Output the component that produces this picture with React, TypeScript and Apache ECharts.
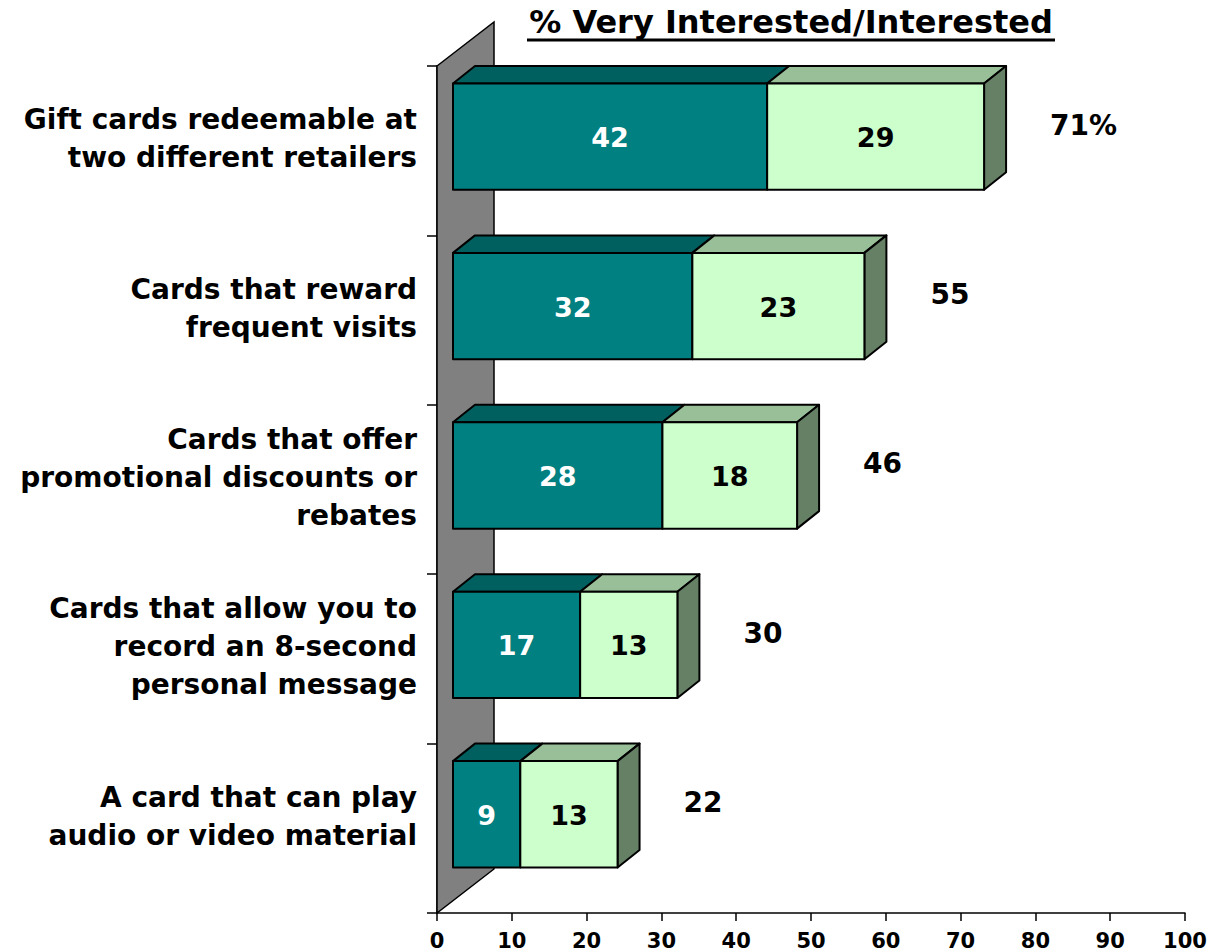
import React, { useEffect, useRef } from "react";
import * as echarts from "echarts";

const categories = [
  "Gift cards redeemable at\ntwo different retailers",
  "Cards that reward\nfrequent visits",
  "Cards that offer\npromotional discounts or\nrebates",
  "Cards that allow you to\nrecord an 8-second\npersonal message",
  "A card that can play\naudio or video material",
];
const veryInterested = [42, 32, 28, 17, 9];
const interested = [29, 23, 18, 13, 13];
const totalLabels = ["71%", "55", "46", "30", "22"];
const titleText = "% Very Interested/Interested";

const FONT = "'DejaVu Sans', Verdana, sans-serif";
const DX = 22;
const DY = 17.5;
const FRONT_SHIFT = 16;
const WALL_DX = 57;
const WALL_DY = 44;

const darkColors = { front: "#008080", top: "#006060", side: "#004040" };
const lightColors = { front: "#CCFFCC", top: "#99BF99", side: "#668066" };

function frontBox(api: any, value: number, cat: number) {
  const p = api.coord([value, cat]);
  const bandH = api.size([0, 1])[1];
  const bandTop = p[1] - bandH / 2;
  const ft = bandTop + DY;
  const fb = bandTop + bandH * 0.731;
  return { x: p[0] + FRONT_SHIFT, ft, fb, bandTop, axisX: p[0] };
}

function makeBoxRenderer(colors: any, withSide: boolean, textColor: string) {
  return (params: any, api: any) => {
    const start = api.value(0);
    const end = api.value(1);
    const cat = api.value(2);
    const label = api.value(3);
    const a = frontBox(api, start, cat);
    const b = frontBox(api, end, cat);
    const x0 = a.x;
    const x1 = b.x;
    const ft = a.ft;
    const fb = a.fb;
    const stroke = { stroke: "#000", lineWidth: 2, lineJoin: "round" };
    const children: any[] = [
      {
        type: "polygon",
        shape: { points: [[x0, ft], [x0 + DX, ft - DY], [x1 + DX, ft - DY], [x1, ft]] },
        style: { fill: colors.top, ...stroke },
      },
    ];
    if (withSide) {
      children.push({
        type: "polygon",
        shape: { points: [[x1, ft], [x1 + DX, ft - DY], [x1 + DX, fb - DY], [x1, fb]] },
        style: { fill: colors.side, ...stroke },
      });
    }
    children.push({
      type: "rect",
      shape: { x: x0, y: ft, width: x1 - x0, height: fb - ft },
      style: { fill: colors.front, ...stroke },
    });
    children.push({
      type: "text",
      x: (x0 + x1) / 2,
      y: (ft + fb) / 2 + 1,
      style: {
        text: String(label),
        fill: textColor,
        font: `bold 27px ${FONT}`,
        align: "center",
        verticalAlign: "middle",
      },
    });
    return { type: "group", children };
  };
}

export default function App() {
  const ref = useRef<HTMLDivElement>(null);
  useEffect(() => {
    if (!ref.current) return;
    const chart = echarts.init(ref.current, undefined, { renderer: "svg" });
    const n = categories.length;
    const darkData = veryInterested.map((v, i) => [0, v, i, v]);
    const lightData = interested.map((v, i) => [veryInterested[i], veryInterested[i] + v, i, v]);
    const totalData = interested.map((v, i) => [veryInterested[i] + v, i]);
    const labelData = categories.map((c, i) => [0, i]);

    chart.setOption({
      animation: false,
      backgroundColor: "#fff",
      grid: { left: 437, right: 25, top: 66, bottom: 39 },
      graphic: [
        {
          type: "text",
          x: 791,
          y: 22,
          style: {
            text: titleText,
            font: `bold 32px ${FONT}`,
            fill: "#000",
            align: "center",
            verticalAlign: "middle",
          },
        },
        {
          type: "line",
          shape: { x1: 527, y1: 40, x2: 1055, y2: 40 },
          style: { stroke: "#000", lineWidth: 3 },
        },
      ],
      xAxis: {
        type: "value",
        min: 0,
        max: 100,
        interval: 10,
        splitLine: { show: false },
        axisLine: { show: true, lineStyle: { color: "#000", width: 1.5 } },
        axisTick: { show: true, length: 8, lineStyle: { color: "#000", width: 1.5 } },
        axisLabel: {
          color: "#000",
          fontFamily: FONT,
          fontWeight: "bold",
          fontSize: 21,
          margin: 17,
        },
      },
      yAxis: {
        type: "category",
        inverse: true,
        data: categories,
        axisLine: { show: true, lineStyle: { color: "#000", width: 1.5 } },
        axisTick: { show: true, length: 10, lineStyle: { color: "#000", width: 1.5 } },
        axisLabel: { show: false },
      },
      series: [
        {
          type: "custom",
          name: "wall",
          z: 1,
          clip: false,
          data: [[0, 0]],
          encode: { x: 0, y: 1 },
          renderItem: (params: any, api: any) => {
            const bandH = api.size([0, 1])[1];
            const pTop = api.coord([0, 0]);
            const pBot = api.coord([0, n - 1]);
            const top = pTop[1] - bandH / 2;
            const bot = pBot[1] + bandH / 2;
            const xl = pTop[0];
            return {
              type: "polygon",
              shape: {
                points: [[xl, top], [xl + WALL_DX, top - WALL_DY], [xl + WALL_DX, bot - WALL_DY], [xl, bot]],
              },
              style: { fill: "#808080", stroke: "#000", lineWidth: 1.5 },
            };
          },
        },
        {
          type: "custom",
          name: "Category labels",
          z: 2,
          clip: false,
          data: labelData,
          encode: { x: 0, y: 1 },
          renderItem: (params: any, api: any) => {
            const f = frontBox(api, 0, api.value(1));
            return {
              type: "text",
              x: f.axisX - 20,
              y: (f.ft + f.fb) / 2 + 2,
              style: {
                text: categories[params.dataIndex],
                fill: "#000",
                font: `bold 28px ${FONT}`,
                lineHeight: 38,
                align: "right",
                verticalAlign: "middle",
              },
            };
          },
        },
        {
          type: "custom",
          name: "Very Interested",
          z: 3,
          clip: false,
          data: darkData,
          encode: { x: [0, 1], y: 2 },
          renderItem: makeBoxRenderer(darkColors, false, "#fff"),
        },
        {
          type: "custom",
          name: "Interested",
          z: 4,
          clip: false,
          data: lightData,
          encode: { x: [0, 1], y: 2 },
          renderItem: makeBoxRenderer(lightColors, true, "#000"),
        },
        {
          type: "custom",
          name: "Total",
          z: 5,
          clip: false,
          data: totalData,
          encode: { x: 0, y: 1 },
          renderItem: (params: any, api: any) => {
            const f = frontBox(api, api.value(0), api.value(1));
            return {
              type: "text",
              x: f.x + 66,
              y: f.bandTop + 59,
              style: {
                text: String(totalLabels[params.dataIndex]),
                fill: "#000",
                font: `bold 28px ${FONT}`,
                align: "left",
                verticalAlign: "middle",
              },
            };
          },
        },
      ],
    });
    return () => chart.dispose();
  }, []);
  return (
    <div
      ref={ref}
      style={{ position: "absolute", left: 0, top: 0, width: 1210, height: 952 }}
    />
  );
}
